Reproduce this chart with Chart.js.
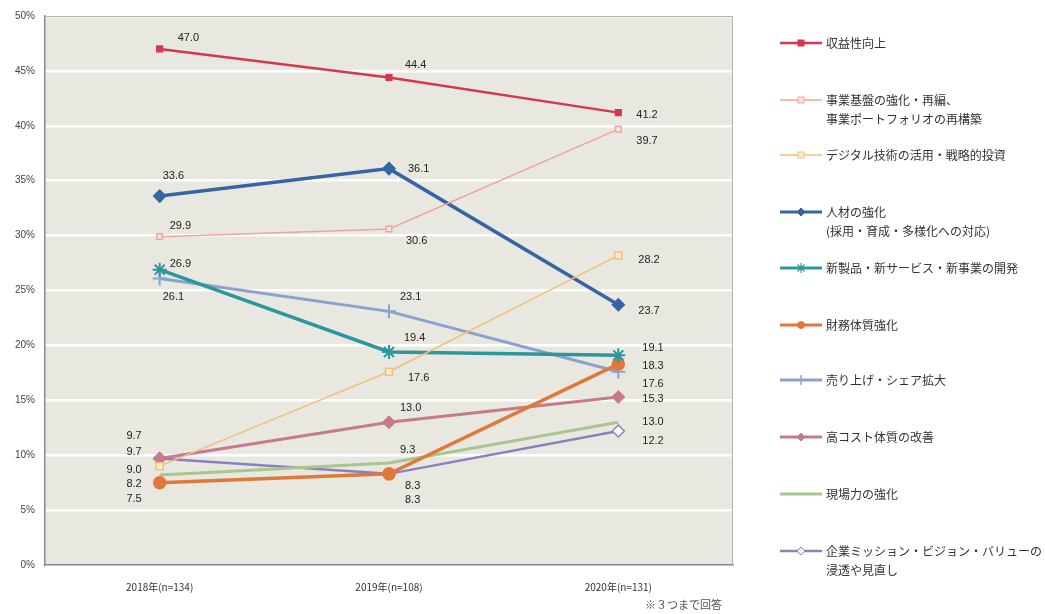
<!DOCTYPE html>
<html>
<head>
<meta charset="utf-8">
<script src="https://cdn.jsdelivr.net/npm/chart.js@4/dist/chart.umd.min.js"></script>
<style>
  body { margin: 0; background: #fff; font-family: "Noto Sans CJK JP", "Noto Sans", sans-serif; }
  #wrap { position: relative; width: 1045px; height: 614px; }
  #legend { position: absolute; left: 780px; top: 0; }
  .item { position: absolute; left: 0; width: 270px; font-size: 12px; line-height: 19px; color: #333; white-space: nowrap; }
  .item svg { position: absolute; left: 0; top: 3px; }
  .item span { position: absolute; left: 46px; top: -1px; }
  #note { position: absolute; left: 645px; top: 596px; font-size: 11px; color: #555; }
</style>
</head>
<body>
<div id="wrap">
  <canvas id="trendChart" width="1045" height="614"></canvas>
  <div id="legend"></div>
  <div id="note">※３つまで回答</div>
</div>
<script>
// 各年の回答割合（%）
var years = ['2018年(n=134)', '2019年(n=108)', '2020年(n=131)'];
var names = [
  '収益性向上',
  '事業基盤の強化・再編、<br>事業ポートフォリオの再構築',
  'デジタル技術の活用・戦略的投資',
  '人材の強化<br>(採用・育成・多様化への対応)',
  '新製品・新サービス・新事業の開発',
  '財務体質強化',
  '売り上げ・シェア拡大',
  '高コスト体質の改善',
  '現場力の強化',
  '企業ミッション・ビジョン・バリューの<br>浸透や見直し'
];
var shueki   = [47.0, 44.4, 41.2];
var kiban    = [29.9, 30.6, 39.7];
var digital  = [9.0, 17.6, 28.2];
var jinzai   = [33.6, 36.1, 23.7];
var shinki   = [26.9, 19.4, 19.1];
var zaimu    = [7.5, 8.3, 18.3];
var uriage   = [26.1, 23.1, 17.6];
var cost     = [9.7, 13.0, 15.3];
var genba    = [8.2, 9.3, 13.0];
var mission  = [9.7, 8.3, 12.2];
var yTicks   = [0, 5, 10, 15, 20, 25, 30, 35, 40, 45, 50];

var series = [shueki, kiban, digital, jinzai, shinki, zaimu, uriage, cost, genba, mission];

// 見た目の設定
var styles = [
  { color: '#d8354f', fill: '#d8354f', point: 'rect',    r: 4, w: 2.5 },
  { color: '#f0a49c', fill: '#fbe3de', point: 'rect',    r: 4, w: 1.5 },
  { color: '#f4bf78', fill: '#faebd2', point: 'rect',    r: 5, w: 1.5 },
  { color: '#3565a6', fill: '#3565a6', point: 'rectRot', r: 6, w: 3.5 },
  { color: '#2b979c', fill: '#2b979c', point: 'star',    r: 7, w: 3.5 },
  { color: '#e0783a', fill: '#e0783a', point: 'circle',  r: 6, w: 3.5 },
  { color: '#8aa2cf', fill: '#8aa2cf', point: 'cross',   r: 7, w: 3 },
  { color: '#c77a8b', fill: '#c77a8b', point: 'rectRot', r: 6, w: 3 },
  { color: '#a7c78e', fill: '#a7c78e', point: 'circle',  r: 0, w: 3 },
  { color: '#8a80bf', fill: '#ffffff', point: 'rectRot', r: 6, w: 2.5 }
];

// 数値ラベルの位置（点からのずれ）
var labelPos = [
  [[18, -11], [16, -13], [18, 2]],
  [[10, -11], [17, 12], [18, 12]],
  [[-18, 4, 'right'], [19, 6], [20, 5]],
  [[3, -20], [19, 0], [20, 6]],
  [[10, -6], [15, -14], [24, -7]],
  [[-18, 16, 'right'], [16, 12], [24, 2]],
  [[3, 19], [11, -14], [24, 12]],
  [[-18, -23, 'right'], [11, -14], [24, 2]],
  [[-18, 9, 'right'], [11, -13], [24, 0]],
  [[-18, -7, 'right'], [16, 26], [24, 10]]
];
var legendTop = [34, 91, 146, 203, 259, 316, 371, 428, 485, 542];

var datasets = series.map(function (d, i) {
  var s = styles[i];
  return {
    label: names[i].replace('<br>', ''),
    data: d,
    borderColor: s.color,
    backgroundColor: s.fill,
    borderWidth: s.w,
    pointStyle: s.point,
    pointRadius: s.r,
    pointBorderColor: s.color,
    pointBackgroundColor: s.fill,
    pointBorderWidth: s.point === 'cross' || s.point === 'star' ? 2 : 1.5,
    tension: 0
  };
});

var plotBg = {
  id: 'plotBg',
  beforeDraw: function (chart) {
    var a = chart.chartArea, ctx = chart.ctx;
    ctx.save();
    ctx.fillStyle = '#e9e8e0';
    ctx.fillRect(a.left, a.top, a.right - a.left, a.bottom - a.top);
    ctx.restore();
  },
  afterDraw: function (chart) {
    var a = chart.chartArea, ctx = chart.ctx;
    ctx.save();
    ctx.strokeStyle = '#b5b5b0';
    ctx.lineWidth = 1;
    ctx.beginPath();
    ctx.moveTo(a.left, a.top + 0.5);
    ctx.lineTo(a.right - 0.5, a.top + 0.5);
    ctx.lineTo(a.right - 0.5, a.bottom);
    ctx.stroke();
    ctx.restore();
  }
};

var valueLabels = {
  id: 'valueLabels',
  afterDatasetsDraw: function (chart) {
    var ctx = chart.ctx;
    ctx.save();
    ctx.font = '11px "Liberation Sans Narrow", "Liberation Sans", sans-serif';
    ctx.fillStyle = '#222';
    ctx.textBaseline = 'middle';
    chart.data.datasets.forEach(function (ds, i) {
      var meta = chart.getDatasetMeta(i);
      meta.data.forEach(function (pt, j) {
        var p = labelPos[i][j];
        ctx.textAlign = p[2] || 'left';
        ctx.fillText(ds.data[j].toFixed(1), pt.x + p[0], pt.y + p[1]);
      });
    });
    ctx.restore();
  }
};

new Chart(document.getElementById('trendChart'), {
  type: 'line',
  data: { labels: years, datasets: datasets },
  plugins: [plotBg, valueLabels],
  options: {
    responsive: false,
    animation: false,
    layout: { padding: { top: 10, right: 312, left: 0, bottom: 0 } },
    plugins: { legend: { display: false }, tooltip: { enabled: false } },
    scales: {
      x: {
        offset: true,
        grid: { display: false },
        border: { display: true, color: '#8a8a86', width: 1.5 },
        ticks: { color: '#333', padding: 8, font: { size: 10, family: '"Noto Sans CJK JP", sans-serif' } },
        afterFit: function (s) { s.height = 49; }
      },
      y: {
        min: 0, max: 50,
        afterBuildTicks: function (s) { s.ticks = yTicks.map(function (v) { return { value: v }; }); },
        grid: { color: '#ffffff', lineWidth: 2.5, drawTicks: false },
        border: { display: true, color: '#8a8a86', width: 1.5 },
        ticks: {
          color: '#444', padding: 10,
          font: { size: 10, family: '"Liberation Sans Narrow", "Liberation Sans", sans-serif' },
          callback: function (v) { return v + '%'; }
        },
        afterFit: function (s) { s.width = 45; }
      }
    }
  }
});

// 凡例
function markerSvg(s) {
  var c = s.color, f = s.fill, m = '';
  if (s.r > 0) {
    if (s.point === 'rect') m = '<rect x="18" y="3" width="6" height="6" fill="' + f + '" stroke="' + c + '"/>';
    if (s.point === 'rectRot') m = '<polygon points="21,2 25,6 21,10 17,6" fill="' + f + '" stroke="' + c + '"/>';
    if (s.point === 'circle') m = '<circle cx="21" cy="6" r="3.5" fill="' + f + '" stroke="' + c + '"/>';
    if (s.point === 'cross') m = '<path d="M21 1V11M16 6H26" stroke="' + c + '" stroke-width="1.5"/>';
    if (s.point === 'star') m = '<path d="M21 1V11M16 6H26M17.5 2.5L24.5 9.5M24.5 2.5L17.5 9.5" stroke="' + c + '" stroke-width="1.2"/>';
  }
  return '<svg width="42" height="12"><line x1="0" y1="6" x2="42" y2="6" stroke="' + c +
    '" stroke-width="' + Math.min(s.w, 3) + '"/>' + m + '</svg>';
}
var lg = document.getElementById('legend');
names.forEach(function (n, i) {
  var d = document.createElement('div');
  d.className = 'item';
  d.style.top = legendTop[i] + 'px';
  d.innerHTML = markerSvg(styles[i]) + '<span>' + n + '</span>';
  lg.appendChild(d);
});
</script>
</body>
</html>
